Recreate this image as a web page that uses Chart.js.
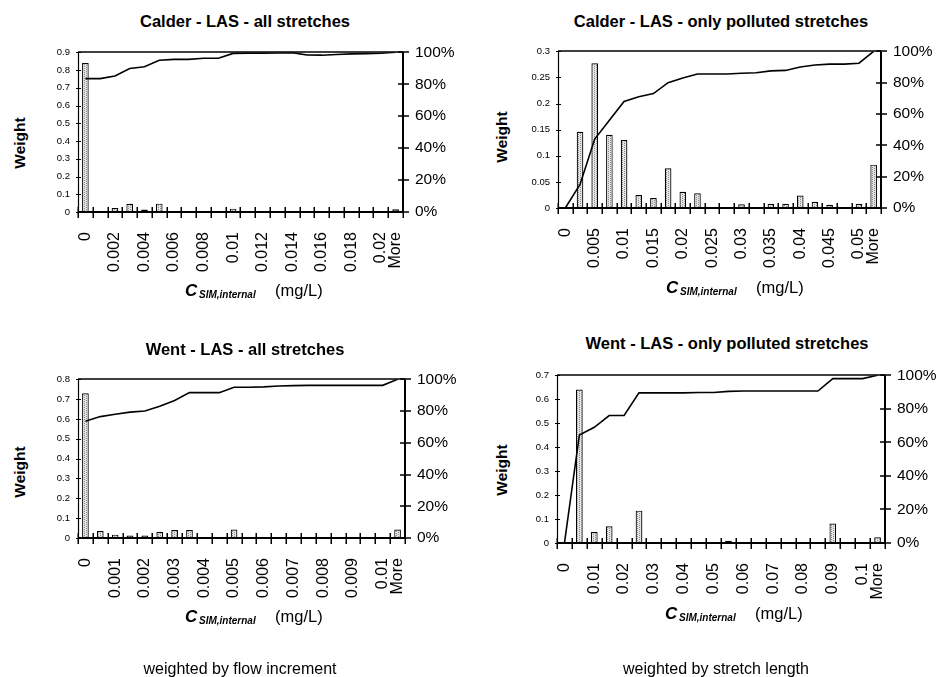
<!DOCTYPE html>
<html><head><meta charset="utf-8">
<script src="https://cdn.jsdelivr.net/npm/chart.js@4.4.0/dist/chart.umd.min.js"></script>
<style>
html,body{margin:0;padding:0;background:#fff;}
#page{position:relative;width:939px;height:677px;overflow:hidden;background:#fff;font-family:'Liberation Sans',Arial,Helvetica,sans-serif;color:#000;}
.box{position:absolute;}
.t{position:absolute;white-space:nowrap;line-height:1;}
</style></head><body><div id="page"></div>
<script>
// ---------- DATA ----------
const calderAllCats = ['0','0.001','0.002','0.003','0.004','0.005','0.006','0.007','0.008','0.009','0.01','0.011','0.012','0.013','0.014','0.015','0.016','0.017','0.018','0.019','0.02','More'];
const calderAllWeight = [0.84,0,0.022,0.046,0.014,0.047,0.004,0.004,0.004,0,0.019,0,0,0,0,0,0,0,0.005,0,0,0.015];
const calderAllCum = [83.5,83.5,85.2,89.9,91,95,95.6,95.6,96.3,96.3,99.3,99.5,99.5,99.6,99.8,98.3,98.2,98.6,99,99.2,99.4,100];

const calderPolCats = ['0','0.0025','0.005','0.0075','0.01','0.0125','0.015','0.0175','0.02','0.0225','0.025','0.0275','0.03','0.0325','0.035','0.0375','0.04','0.0425','0.045','0.0475','0.05','More'];
const calderPolWeight = [0,0.146,0.277,0.14,0.13,0.025,0.019,0.076,0.031,0.028,0,0,0.007,0.002,0.008,0.008,0.024,0.012,0.006,0,0.008,0.083];
const calderPolCum = [0,15,44,56,68,71,73,80,83,85.5,85.5,85.5,86,86.3,87.5,87.8,90,91.3,91.8,91.8,92.4,100];

const wentAllCats = ['0','0.0005','0.001','0.0015','0.002','0.0025','0.003','0.0035','0.004','0.0045','0.005','0.0055','0.006','0.0065','0.007','0.0075','0.008','0.0085','0.009','0.0095','0.01','More'];
const wentAllWeight = [0.73,0.035,0.017,0.013,0.013,0.03,0.04,0.04,0,0,0.043,0,0,0.004,0,0,0,0,0,0,0,0.043];
const wentAllCum = [73.6,76.5,78,79.3,80,83,86.7,91.6,91.6,91.6,95,95,95.2,95.8,96,96.2,96.2,96.2,96.2,96.2,96.2,100];

const wentPolCats = ['0','0.005','0.01','0.015','0.02','0.025','0.03','0.035','0.04','0.045','0.05','0.055','0.06','0.065','0.07','0.075','0.08','0.085','0.09','0.095','0.1','More'];
const wentPolWeight = [0,0.641,0.046,0.07,0,0.135,0,0,0,0,0,0.009,0,0,0,0,0,0,0.081,0,0,0.024];
const wentPolCum = [0,64.4,69,76,76,89.5,89.5,89.5,89.5,89.7,89.7,90.4,90.6,90.6,90.6,90.6,90.6,90.6,98,98,98,100];

const panelTitles = ['Calder - LAS - all stretches','Calder - LAS - only polluted stretches','Went - LAS - all stretches','Went - LAS - only polluted stretches'];
const weightMax = [0.9,0.3,0.8,0.7];
const weightStep = [0.1,0.05,0.1,0.1];
const captions = ['weighted by flow increment','weighted by stretch length'];

// ---------- LAYOUT ----------
const page = document.getElementById('page');
Chart.defaults.font.family = "'Liberation Sans', Arial, Helvetica, sans-serif";
Chart.defaults.color = '#000';
const YW = 40, Y2W = 55, PADT = 12, XH = 75;

const layouts = [
  {plot:[78,43,403,212], title:[245,27], weight:[20,143], xt:[185,296]},
  {plot:[558,42,881,208], title:[721,27], weight:[502,137], xt:[666,293]},
  {plot:[78,370,405,538], title:[245,355], weight:[20,472], xt:[185,622]},
  {plot:[557,366,885,543], title:[727,349], weight:[502,470], xt:[665,619]}
];

const framePlugin = {
  id:'frame',
  afterDraw(chart){
    const {ctx, chartArea:a, scales} = chart;
    ctx.save();
    ctx.strokeStyle = '#000';
    ctx.lineWidth = 1.2;
    ctx.beginPath();
    ctx.moveTo(Math.round(a.left)+0.5, a.bottom); ctx.lineTo(Math.round(a.left)+0.5, Math.round(a.top));
    ctx.stroke();
    ctx.lineWidth = 1.6;
    ctx.beginPath();
    ctx.moveTo(a.left, Math.round(a.top)); ctx.lineTo(a.right, Math.round(a.top));
    ctx.stroke();
    ctx.lineWidth = 2;
    ctx.beginPath();
    ctx.moveTo(a.left, Math.round(a.bottom)); ctx.lineTo(a.right+1, Math.round(a.bottom));
    ctx.moveTo(Math.round(a.right), a.top); ctx.lineTo(Math.round(a.right), a.bottom);
    ctx.stroke();
    // category boundary ticks on x axis
    const xs = scales.x, n = chart.data.labels.length;
    const step = n > 1 ? xs.getPixelForValue(1) - xs.getPixelForValue(0) : 0;
    ctx.lineWidth = 1.5;
    ctx.beginPath();
    for (let i = 0; i <= n; i++) {
      const px = Math.round(xs.getPixelForValue(0) - step/2 + i*step) + 0.25;
      ctx.moveTo(px, a.bottom - 5); ctx.lineTo(px, a.bottom + 6);
    }
    ctx.stroke();
    // right axis ticks
    const y2 = scales.y2;
    ctx.beginPath();
    y2.ticks.forEach((t,i) => { const py = Math.round(y2.getPixelForTick(i)); ctx.moveTo(a.right-5, py); ctx.lineTo(a.right+6, py); });
    ctx.stroke();
    // left axis ticks
    const y = scales.y;
    ctx.lineWidth = 1;
    ctx.beginPath();
    y.ticks.forEach((t,i) => { const py = Math.round(y.getPixelForTick(i)) + 0.5; ctx.moveTo(a.left-2, py); ctx.lineTo(a.left+3, py); });
    ctx.stroke();
    ctx.restore();
  }
};

function addText(txt, x, baseline, size, weight, style, center, rotate){
  const d = document.createElement('div');
  d.className = 't';
  d.textContent = txt;
  d.style.fontSize = size + 'px';
  d.style.fontWeight = weight;
  d.style.fontStyle = style;
  if (rotate) {
    d.style.left = x + 'px'; d.style.top = baseline + 'px';
    d.style.transform = 'translate(-50%,-50%) rotate(-90deg)';
  } else {
    d.style.left = x + 'px';
    d.style.top = (baseline - 0.8465*size) + 'px';
    if (center) d.style.transform = 'translateX(-50%)';
  }
  page.appendChild(d);
}

function makeChart(idx, cats, weights, cum){
  const L = layouts[idx];
  const [x0,y0,x1,y1] = L.plot;
  const W = (x1-x0) + YW + Y2W, H = (y1-y0) + PADT + XH;
  const div = document.createElement('div');
  div.className = 'box';
  div.style.left = (x0-YW) + 'px'; div.style.top = (y0-PADT) + 'px';
  div.style.width = W + 'px'; div.style.height = H + 'px';
  const cv = document.createElement('canvas');
  cv.width = W; cv.height = H;
  cv.style.width = W + 'px'; cv.style.height = H + 'px';
  div.appendChild(cv);
  page.appendChild(div);
  const tile = document.createElement('canvas');
  tile.width = 4; tile.height = 2;
  const tg = tile.getContext('2d');
  tg.fillStyle = '#e6e6e6'; tg.fillRect(0,0,4,2);
  tg.fillStyle = '#8a8a8a'; tg.fillRect(0,0,1,1); tg.fillRect(2,1,1,1);
  const pattern = cv.getContext('2d').createPattern(tile, 'repeat');
  const last = cats.length - 1;
  new Chart(cv, {
    data: {
      labels: cats,
      datasets: [
        {type:'line', data:cum, yAxisID:'y2', borderColor:'#000', borderWidth:1.6, pointRadius:0, pointHoverRadius:0, tension:0, fill:false, order:0},
        {type:'bar', data:weights, yAxisID:'y', backgroundColor:pattern, borderColor:'#000', borderWidth:1.2, borderSkipped:false, categoryPercentage:1, barPercentage:0.45, order:1}
      ]
    },
    options: {
      responsive:false, animation:false, events:[],
      layout:{padding:{top:PADT,left:0,right:0,bottom:0}},
      plugins:{legend:{display:false}, tooltip:{enabled:false}},
      scales:{
        x:{type:'category', offset:true, grid:{display:false, drawTicks:false, offset:true}, border:{display:false},
           ticks:{autoSkip:false, maxRotation:90, minRotation:90, padding:20, font:{size:16}, color:'#000',
             callback(v,i){ return (i%2===0 || i===last) ? this.getLabelForValue(v) : ''; }},
           afterFit(s){ s.height = XH; }},
        y:{position:'left', min:0, max:weightMax[idx], grid:{display:false, drawTicks:false}, border:{display:false},
           ticks:{stepSize:weightStep[idx], padding:8, font:{size:9.5}, color:'#000',
             callback(v){ return String(+Number(v).toFixed(3)); }},
           afterFit(s){ s.width = YW; }},
        y2:{position:'right', min:0, max:100, grid:{display:false, drawTicks:false}, border:{display:false},
           ticks:{stepSize:20, padding:12, font:{size:15.5}, color:'#000', callback(v){ return v + '%'; }},
           afterFit(s){ s.width = Y2W; }}
      }
    },
    plugins:[framePlugin]
  });
  addText(panelTitles[idx], L.title[0], L.title[1], 16.5, 'bold', 'normal', true);
  addText('Weight', L.weight[0], L.weight[1], 15.5, 'bold', 'normal', false, true);
  const [tx, tb] = L.xt;
  addText('C', tx, tb, 17, 'bold', 'italic');
  addText('SIM,internal', tx+14, tb+2, 10, 'bold', 'italic');
  addText('(mg/L)', tx+90, tb, 16.5, 'normal', 'normal');
}

makeChart(0, calderAllCats, calderAllWeight, calderAllCum);
makeChart(1, calderPolCats, calderPolWeight, calderPolCum);
makeChart(2, wentAllCats, wentAllWeight, wentAllCum);
makeChart(3, wentPolCats, wentPolWeight, wentPolCum);
addText(captions[0], 240, 675, 16, 'normal', 'normal', true);
addText(captions[1], 716, 675, 16, 'normal', 'normal', true);
</script></body></html>
